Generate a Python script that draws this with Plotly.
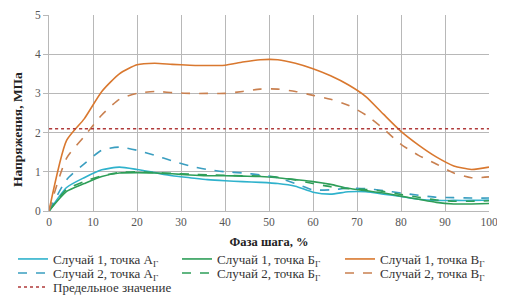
import plotly.graph_objects as go

phase = [0, 4, 8, 12, 16, 20, 24, 28, 32, 36, 40, 44, 48, 52, 56, 60, 64, 68, 72, 76, 80, 84, 88, 92, 96, 100]

c1_A = [0, 0.60, 0.85, 1.05, 1.12, 1.06, 0.98, 0.90, 0.85, 0.80, 0.77, 0.75, 0.73, 0.70, 0.63, 0.48, 0.43, 0.49, 0.49, 0.43, 0.37, 0.30, 0.27, 0.27, 0.27, 0.28]
c1_B = [0, 0.50, 0.70, 0.88, 0.97, 0.98, 0.97, 0.95, 0.92, 0.90, 0.90, 0.89, 0.88, 0.85, 0.80, 0.75, 0.68, 0.58, 0.52, 0.46, 0.38, 0.30, 0.22, 0.18, 0.18, 0.19]
c1_V = [0, 1.80, 2.35, 3.05, 3.50, 3.73, 3.77, 3.74, 3.72, 3.71, 3.72, 3.80, 3.86, 3.86, 3.77, 3.63, 3.45, 3.22, 2.92, 2.47, 2.03, 1.68, 1.38, 1.15, 1.06, 1.12]
c2_A = [0, 0.80, 1.20, 1.55, 1.63, 1.55, 1.42, 1.28, 1.15, 1.06, 1.00, 0.97, 0.92, 0.85, 0.70, 0.54, 0.54, 0.58, 0.57, 0.52, 0.46, 0.40, 0.35, 0.34, 0.33, 0.33]
c2_B = [0, 0.55, 0.75, 0.90, 0.98, 1.00, 0.98, 0.96, 0.94, 0.92, 0.91, 0.90, 0.89, 0.86, 0.79, 0.70, 0.62, 0.57, 0.55, 0.50, 0.42, 0.35, 0.28, 0.25, 0.25, 0.26]
c2_V = [0, 1.35, 1.90, 2.45, 2.85, 3.00, 3.05, 3.02, 3.00, 3.00, 3.00, 3.05, 3.11, 3.11, 3.05, 2.95, 2.85, 2.70, 2.45, 2.10, 1.70, 1.42, 1.20, 0.97, 0.85, 0.87]
limit = [2.1] * len(phase)

names = [
    "Случай 1, точка А<sub>Г</sub>", "Случай 1, точка Б<sub>Г</sub>", "Случай 1, точка В<sub>Г</sub>",
    "Случай 2, точка А<sub>Г</sub>", "Случай 2, точка Б<sub>Г</sub>", "Случай 2, точка В<sub>Г</sub>",
    "Предельное значение",
]
x_title = "Фаза шага, %"
y_title = "Напряжения, МПа"
x_ticks = [0, 10, 20, 30, 40, 50, 60, 70, 80, 90, 100]
y_ticks = [0, 1, 2, 3, 4, 5]

cyan = "#2fb2cc"
green = "#2e9e58"
orange = "#d9782f"
red = "#b03a3a"

series = [
    (c1_A, cyan, "solid"), (c1_B, green, "solid"), (c1_V, orange, "solid"),
    (c2_A, "#3a9ec0", "dash"), (c2_B, green, "dash"), (c2_V, "#c98050", "dash"),
    (limit, red, "dot"),
]

FONT = "Liberation Serif, Times New Roman, serif"

# page has an 8px body margin; figure sized so the plot lands where the reference has it
W, H = 497, 292
ML, MT, MB = 41, 7, 89
PW, PH = 440, 196

# legend slot (column, row) for each series
col_left = [13, 177, 340]   # page px of legend box left
row_mid = [259, 273, 287]   # page px of legend row centre
slots = [(0, 0), (1, 0), (2, 0), (0, 1), (1, 1), (2, 1), (0, 2)]

fig = go.Figure()
legends = {}
for i, ((vals, col, dash), nm, (c, r)) in enumerate(zip(series, names, slots)):
    lid = "legend" if i == 0 else f"legend{i + 1}"
    fig.add_trace(go.Scatter(
        x=phase, y=vals, name=nm, mode="lines", legend=lid, showlegend=True,
        line=dict(color=col, width=1.6, dash=dash, shape="spline", smoothing=0.6),
    ))
    legends[lid] = dict(
        orientation="h", visible=True,
        x=(col_left[c] - (8 + ML)) / PW, xanchor="left",
        y=((8 + MT + PH) - row_mid[r]) / PH, yanchor="middle",
        itemwidth=30, font=dict(size=13, family=FONT, color="#333"),
        bgcolor="rgba(0,0,0,0)",
    )

fig.update_layout(
    width=W, height=H, showlegend=True,
    margin=dict(l=ML, r=W - ML - PW, t=MT, b=MB, autoexpand=False),
    paper_bgcolor="white", plot_bgcolor="white",
    font=dict(family=FONT, size=11.5, color="#333"),
    xaxis=dict(
        range=[0, 100], tickvals=x_ticks, showgrid=True, gridcolor="#b8b8b8", gridwidth=1,
        linecolor="#b8b8b8", showline=True, zeroline=False,
        title=dict(text=f"<b>{x_title}</b>", font=dict(size=12.5, family=FONT, color="#222"), standoff=10),
        tickfont=dict(size=11.5, color="#555", family=FONT), ticks="",
    ),
    yaxis=dict(
        range=[0, 5], tickvals=y_ticks, showgrid=True, gridcolor="#b8b8b8", gridwidth=1,
        linecolor="#b8b8b8", showline=True, zeroline=False,
        tickfont=dict(size=11.5, color="#555", family=FONT), ticks="outside", ticklen=5, tickcolor="#b8b8b8",
    ),
    annotations=[dict(
        text=f"<b>{y_title}</b>", textangle=-90, showarrow=False,
        xref="paper", yref="paper",
        x=(17 - (8 + ML)) / PW, xanchor="center",
        y=((8 + MT + PH) - 130) / PH, yanchor="middle",
        font=dict(size=13.5, family=FONT, color="#222"),
    )],
    **legends,
)

fig.write_html("out.html")
